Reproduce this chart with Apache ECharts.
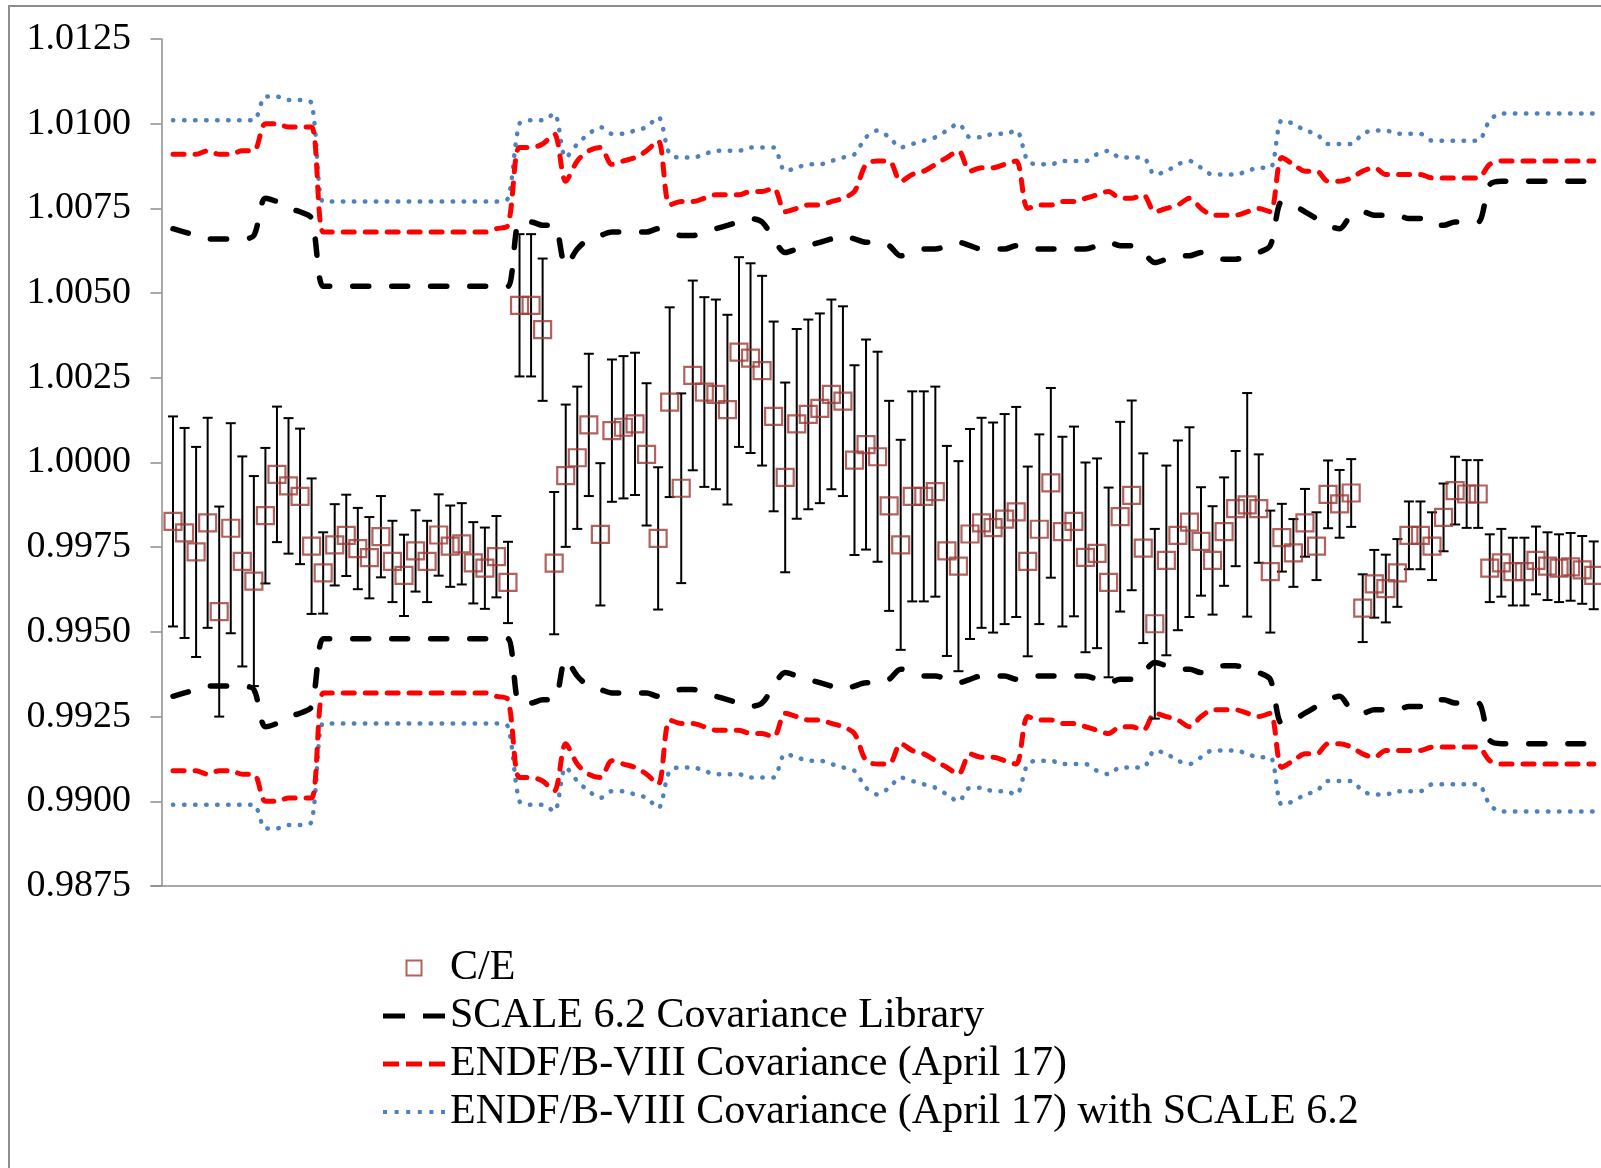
<!DOCTYPE html>
<html>
<head>
<meta charset="utf-8">
<script src="https://cdn.jsdelivr.net/npm/echarts@6/dist/echarts.min.js"></script>
<style>
  html, body { margin: 0; padding: 0; background: #fff; }
  #chart { width: 1601px; height: 1168px; }
</style>
</head>
<body>
<div id="chart"></div>
<script>
// case number along the x axis (1..124)
var caseIndex = [];
for (var k = 1; k <= 124; k++) caseIndex.push(k);

// C/E values
var ceValues = [
  0.99826, 0.99792, 0.99736, 0.99822, 0.99560, 0.99806, 0.99708, 0.99650, 0.99843, 0.99965,
  0.99931, 0.99900, 0.99753, 0.99674, 0.99757, 0.99785, 0.99746, 0.99719, 0.99781, 0.99708,
  0.99667, 0.99739, 0.99708, 0.99786, 0.99753, 0.99760, 0.99704, 0.99688, 0.99722, 0.99646,
  1.00464, 1.00464, 1.00392, 0.99703, 0.99961, 1.00014, 1.00111, 0.99788, 1.00094, 1.00104,
  1.00114, 1.00024, 0.99776, 1.00178, 0.99924, 1.00257, 1.00208, 1.00201, 1.00156, 1.00326,
  1.00308, 1.00271, 1.00136, 0.99956, 1.00114, 1.00142, 1.00160, 1.00201, 1.00181, 1.00007,
  1.00053, 1.00017, 0.99872, 0.99757, 0.99900, 0.99900, 0.99914, 0.99739, 0.99694, 0.99789,
  0.99822, 0.99808, 0.99833, 0.99854, 0.99708, 0.99803, 0.99940, 0.99796, 0.99826, 0.99720,
  0.99732, 0.99646, 0.99840, 0.99903, 0.99747, 0.99524, 0.99711, 0.99785, 0.99824, 0.99767,
  0.99711, 0.99796, 0.99864, 0.99875, 0.99864, 0.99678, 0.99778, 0.99733, 0.99822, 0.99753,
  0.99906, 0.99878, 0.99910, 0.99570, 0.99642, 0.99628, 0.99674, 0.99785, 0.99785, 0.99753,
  0.99838, 0.99917, 0.99907, 0.99907, 0.99688, 0.99704, 0.99678, 0.99678, 0.99711, 0.99694,
  0.99688, 0.99692, 0.99683, 0.99667
];

// experimental uncertainty (half length of each error bar)
var ceErrors = [
  0.0031, 0.0031, 0.0031, 0.0031, 0.0031, 0.0031, 0.0031, 0.0031, 0.0020, 0.0020,
  0.0020, 0.0020, 0.0020, 0.0012, 0.0012, 0.0012, 0.0012, 0.0012, 0.0012, 0.0012,
  0.0012, 0.0012, 0.0012, 0.0012, 0.0012, 0.0012, 0.0012, 0.0012, 0.0012, 0.0012,
  0.0021, 0.0021, 0.0021, 0.0021, 0.0021, 0.0021, 0.0021, 0.0021, 0.0021, 0.0021,
  0.0021, 0.0021, 0.0021, 0.0028, 0.0028, 0.0028, 0.0028, 0.0028, 0.0028, 0.0028,
  0.0028, 0.0028, 0.0028, 0.0028, 0.0028, 0.0028, 0.0028, 0.0028, 0.0028, 0.0028,
  0.0031, 0.0031, 0.0031, 0.0031, 0.0031, 0.0031, 0.0031, 0.0031, 0.0031, 0.0031,
  0.0031, 0.0031, 0.0031, 0.0031, 0.0028, 0.0028, 0.0028, 0.0028, 0.0028, 0.0028,
  0.0028, 0.0028, 0.0028, 0.0028, 0.0028, 0.0028, 0.0028, 0.0028, 0.0028, 0.0016,
  0.0016, 0.0016, 0.0017, 0.0033, 0.0016, 0.0018, 0.0010, 0.0010, 0.0010, 0.0010,
  0.0010, 0.0010, 0.0010, 0.0010, 0.0010, 0.0010, 0.0010, 0.0010, 0.0010, 0.0010,
  0.0010, 0.0010, 0.0010, 0.0010, 0.0010, 0.0010, 0.0010, 0.0010, 0.0010, 0.0010,
  0.0010, 0.0010, 0.0010, 0.0010
];

// computed uncertainty bands (drawn as 1 + u and 1 - u)
var scaleBand = [
  0.0069, 0.0068, 0.0067, 0.0066, 0.0066, 0.0066, 0.0066, 0.0067, 0.0078, 0.0077,
  0.0075, 0.0074, 0.0072, 0.0052, 0.0052, 0.0052, 0.0052, 0.0052, 0.0052, 0.0052,
  0.0052, 0.0052, 0.0052, 0.0052, 0.0052, 0.0052, 0.0052, 0.0052, 0.0052, 0.0052,
  0.0071, 0.0071, 0.0070, 0.0070, 0.0058, 0.0063, 0.0066, 0.0067, 0.0068, 0.0068,
  0.0068, 0.0068, 0.0069, 0.0068, 0.0067, 0.0067, 0.0068, 0.0069, 0.0070, 0.0071,
  0.0072, 0.0071, 0.0066, 0.0062, 0.0063, 0.0064, 0.0065, 0.0066, 0.0067, 0.0066,
  0.0065, 0.0065, 0.0064, 0.0061, 0.0062, 0.0063, 0.0063, 0.0064, 0.0065, 0.0064,
  0.0063, 0.0063, 0.0063, 0.0064, 0.0063, 0.0063, 0.0063, 0.0063, 0.0063, 0.0063,
  0.0064, 0.0065, 0.0064, 0.0064, 0.0062, 0.0059, 0.0060, 0.0061, 0.0061, 0.0062,
  0.0061, 0.0060, 0.0060, 0.0061, 0.0062, 0.0064, 0.0077, 0.0076, 0.0074, 0.0072,
  0.0070, 0.0069, 0.0073, 0.0074, 0.0073, 0.0073, 0.0073, 0.0072, 0.0072, 0.0070,
  0.0070, 0.0071, 0.0071, 0.0071, 0.0082, 0.0083, 0.0083, 0.0083, 0.0083, 0.0083,
  0.0083, 0.0083, 0.0083, 0.0083
];

var endfBand = [
  0.0091, 0.0091, 0.0091, 0.0092, 0.0091, 0.0091, 0.0092, 0.0092, 0.0100, 0.0100,
  0.0099, 0.0099, 0.0099, 0.0068, 0.0068, 0.0068, 0.0068, 0.0068, 0.0068, 0.0068,
  0.0068, 0.0068, 0.0068, 0.0068, 0.0068, 0.0068, 0.0068, 0.0068, 0.0069, 0.0070,
  0.0093, 0.0093, 0.0094, 0.0097, 0.0083, 0.0089, 0.0092, 0.0093, 0.0088, 0.0089,
  0.0090, 0.0092, 0.0095, 0.0076, 0.0077, 0.0077, 0.0078, 0.0079, 0.0079, 0.0079,
  0.0080, 0.0080, 0.0081, 0.0074, 0.0075, 0.0076, 0.0076, 0.0077, 0.0078, 0.0080,
  0.0088, 0.0089, 0.0089, 0.0083, 0.0085, 0.0086, 0.0088, 0.0090, 0.0092, 0.0086,
  0.0087, 0.0087, 0.0088, 0.0089, 0.0075, 0.0076, 0.0076, 0.0077, 0.0077, 0.0078,
  0.0079, 0.0080, 0.0078, 0.0078, 0.0079, 0.0074, 0.0075, 0.0076, 0.0078, 0.0075,
  0.0073, 0.0073, 0.0073, 0.0074, 0.0075, 0.0074, 0.0090, 0.0088, 0.0086, 0.0086,
  0.0083, 0.0083, 0.0084, 0.0086, 0.0087, 0.0085, 0.0085, 0.0085, 0.0085, 0.0084,
  0.0084, 0.0084, 0.0084, 0.0084, 0.0088, 0.0089, 0.0089, 0.0089, 0.0089, 0.0089,
  0.0089, 0.0089, 0.0089, 0.0089
];

var endfScaleBand = [
  0.0101, 0.0101, 0.0101, 0.0101, 0.0101, 0.0101, 0.0101, 0.0101, 0.0108, 0.0108,
  0.0107, 0.0107, 0.0106, 0.0077, 0.0077, 0.0077, 0.0077, 0.0077, 0.0077, 0.0077,
  0.0077, 0.0077, 0.0077, 0.0077, 0.0077, 0.0077, 0.0077, 0.0077, 0.0077, 0.0078,
  0.0100, 0.0101, 0.0101, 0.0103, 0.0090, 0.0094, 0.0097, 0.0099, 0.0097, 0.0097,
  0.0098, 0.0099, 0.0102, 0.0091, 0.0090, 0.0090, 0.0091, 0.0092, 0.0092, 0.0092,
  0.0093, 0.0093, 0.0093, 0.0086, 0.0087, 0.0088, 0.0088, 0.0089, 0.0090, 0.0091,
  0.0096, 0.0098, 0.0096, 0.0093, 0.0094, 0.0095, 0.0096, 0.0098, 0.0100, 0.0096,
  0.0096, 0.0097, 0.0097, 0.0098, 0.0089, 0.0088, 0.0088, 0.0089, 0.0089, 0.0089,
  0.0091, 0.0092, 0.0090, 0.0090, 0.0090, 0.0085, 0.0086, 0.0088, 0.0089, 0.0087,
  0.0085, 0.0085, 0.0085, 0.0086, 0.0087, 0.0087, 0.0101, 0.0100, 0.0098, 0.0097,
  0.0094, 0.0094, 0.0094, 0.0097, 0.0098, 0.0098, 0.0097, 0.0097, 0.0097, 0.0095,
  0.0095, 0.0095, 0.0095, 0.0095, 0.0101, 0.0103, 0.0103, 0.0103, 0.0103, 0.0103,
  0.0103, 0.0103, 0.0103, 0.0103
];

var yTicks = ['0.9875', '0.9900', '0.9925', '0.9950', '0.9975', '1.0000', '1.0025', '1.0050', '1.0075', '1.0100', '1.0125'];

var NAME_CE = 'C/E';
var NAME_SCALE = 'SCALE 6.2 Covariance Library';
var NAME_ENDF = 'ENDF/B-VIII Covariance (April 17)';
var NAME_ENDF_SCALE = 'ENDF/B-VIII Covariance (April 17) with SCALE 6.2';

var serif = 'Liberation Serif, Times New Roman, serif';
var ceColor = '#9e3b37';

function band(arr, sign) {
  return arr.map(function (u, i) { return [caseIndex[i], +(1 + sign * u).toFixed(5)]; });
}

function bandLine(name, arr, sign, color, width, dash) {
  return {
    name: name,
    type: 'line',
    data: band(arr, sign),
    symbol: 'none',
    smooth: 0.3,
    itemStyle: { color: color },
    lineStyle: { color: color, width: width, type: dash, cap: 'round' },
    z: 2,
    silent: true
  };
}

var chart = echarts.init(document.getElementById('chart'));

var option = {
  animation: false,
  backgroundColor: '#fff',
  graphic: [{
    type: 'rect',
    shape: { x: 9, y: 6, width: 1620, height: 1200 },
    style: { fill: 'none', stroke: '#8d8d8d', lineWidth: 2 },
    silent: true,
    z: -10
  }],
  grid: {
    left: 151, top: 39, right: 0, bottom: 282,
    outerBoundsMode: 'none'
  },
  legend: {
    orient: 'vertical',
    left: 378,
    top: 942,
    itemWidth: 62,
    itemHeight: 15,
    itemGap: 6,
    selectedMode: false,
    textStyle: { fontFamily: serif, fontSize: 42, color: '#000', lineHeight: 42 },
    data: [
      { name: NAME_CE, icon: 'path://M0,0H15V15H0Z',
        itemStyle: { color: 'rgba(0,0,0,0)', borderColor: ceColor, borderWidth: 2 } },
      { name: NAME_SCALE, icon: 'path://M0,0h22v5h-22z M40,0h22v5h-22z',
        itemStyle: { color: '#000', borderWidth: 0 } },
      { name: NAME_ENDF, icon: 'path://M0,0h16v5h-16z M23,0h16v5h-16z M46,0h16v5h-16z',
        itemStyle: { color: '#ff0000', borderWidth: 0 } },
      { name: NAME_ENDF_SCALE,
        icon: 'path://M0,0h4v4h-4z M11.6,0h4v4h-4z M23.2,0h4v4h-4z M34.8,0h4v4h-4z M46.4,0h4v4h-4z M58,0h4v4h-4z',
        itemStyle: { color: '#4f81bd', borderWidth: 0 } }
    ]
  },
  xAxis: {
    type: 'value',
    min: -0.905,
    max: 124.63,
    axisLine: { show: true, onZero: false, lineStyle: { color: '#8c8c8c', width: 1.5 } },
    axisTick: { show: false },
    axisLabel: { show: false },
    splitLine: { show: false }
  },
  yAxis: {
    type: 'value',
    min: 0.9875,
    max: 1.0125,
    interval: 0.0025,
    axisLine: { show: true, lineStyle: { color: '#8c8c8c', width: 1.5 } },
    axisTick: { show: true, length: 11, lineStyle: { color: '#8c8c8c', width: 1.5 } },
    splitLine: { show: false },
    axisLabel: {
      margin: 20,
      color: '#000',
      fontFamily: serif,
      fontSize: 38,
      formatter: function (v) {
        var idx = Math.round((v - 0.9875) / 0.0025);
        return yTicks[idx] !== undefined ? yTicks[idx] : v.toFixed(4);
      }
    }
  },
  series: [
    bandLine(NAME_ENDF_SCALE, endfScaleBand, 1, '#4f81bd', 4.5, [0.5, 10.5]),
    bandLine(NAME_ENDF_SCALE, endfScaleBand, -1, '#4f81bd', 4.5, [0.5, 10.5]),
    bandLine(NAME_ENDF, endfBand, 1, '#ff0000', 5, [11, 11]),
    bandLine(NAME_ENDF, endfBand, -1, '#ff0000', 5, [11, 11]),
    bandLine(NAME_SCALE, scaleBand, 1, '#000000', 5.5, [16, 23]),
    bandLine(NAME_SCALE, scaleBand, -1, '#000000', 5.5, [16, 23]),
    {
      name: 'error',
      type: 'custom',
      silent: true,
      z: 3,
      encode: { x: 0, y: [1, 2] },
      data: ceValues.map(function (v, i) {
        return [caseIndex[i], +(v - ceErrors[i]).toFixed(5), +(v + ceErrors[i]).toFixed(5)];
      }),
      renderItem: function (params, api) {
        var lo = api.coord([api.value(0), api.value(1)]);
        var hi = api.coord([api.value(0), api.value(2)]);
        var w = 5;
        var st = { stroke: '#000', lineWidth: 2 };
        return {
          type: 'group',
          children: [
            { type: 'line', shape: { x1: lo[0], y1: lo[1], x2: hi[0], y2: hi[1] }, style: st },
            { type: 'line', shape: { x1: lo[0] - w, y1: lo[1], x2: lo[0] + w, y2: lo[1] }, style: st },
            { type: 'line', shape: { x1: hi[0] - w, y1: hi[1], x2: hi[0] + w, y2: hi[1] }, style: st }
          ]
        };
      }
    },
    {
      name: NAME_CE,
      type: 'scatter',
      z: 4,
      symbol: 'rect',
      symbolSize: 17,
      itemStyle: { color: 'rgba(0,0,0,0)', borderColor: ceColor, borderWidth: 2.2 },
      data: ceValues.map(function (v, i) { return [caseIndex[i], v]; })
    }
  ]
};

chart.setOption(option);
</script>
</body>
</html>
